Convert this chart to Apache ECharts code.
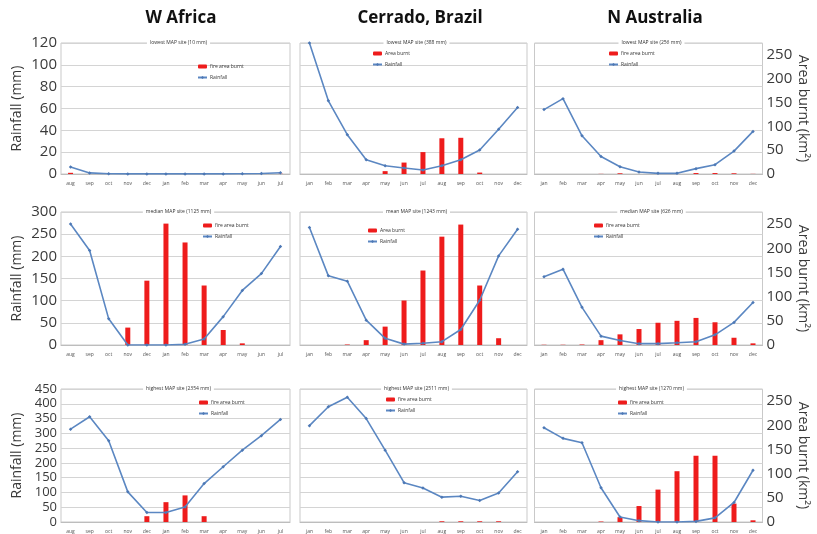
<!DOCTYPE html>
<html>
<head>
<meta charset="utf-8">
<script src="https://cdn.jsdelivr.net/npm/echarts@6/dist/echarts.min.js"></script>
<style>
  html, body { margin: 0; padding: 0; background: #fff; }
  #chart { width: 817px; height: 534px; }
</style>
</head>
<body>
<div id="chart"></div>
<script>
// 月份（西非从8月开始）
const monthsAfrica = ['aug', 'sep', 'oct', 'nov', 'dec', 'jan', 'feb', 'mar', 'apr', 'may', 'jun', 'jul'];
const monthsCalendar = ['jan', 'feb', 'mar', 'apr', 'may', 'jun', 'jul', 'aug', 'sep', 'oct', 'nov', 'dec'];
const regions = ['W Africa', 'Cerrado, Brazil', 'N Australia'];

const siteLabels = [
  ['lowest MAP site (10 mm)', 'lowest MAP site (388 mm)', 'lowest MAP site (256 mm)'],
  ['median MAP site (1125 mm)', 'mean MAP site (1243 mm)', 'median MAP site (626 mm)'],
  ['highest MAP site (2354 mm)', 'highest MAP site (2511 mm)', 'highest MAP site (1270 mm)'],
];
const burntNames = [
  ['fire area burnt', 'Area burnt', 'fire area burnt'],
  ['fire area burnt', 'Area burnt', 'fire area burnt'],
  ['fire area burnt', 'fire area burnt', 'fire area burnt'],
];

// 降雨轴刻度（每行）
const rainMax = [120, 300, 450];
const rainStep = [20, 50, 50];
const burntTicks = [0, 50, 100, 150, 200, 250];

// 降雨 (mm)
const rainAfricaLow = [6.5, 1, 0.2, 0.1, 0.1, 0.1, 0.1, 0.1, 0.1, 0.2, 0.4, 1.2];
const rainCerradoLow = [120, 67, 36, 13, 7.5, 5.5, 3.7, 7.5, 13, 22, 41, 61];
const rainAustraliaLow = [59, 69, 35, 16, 6.7, 1.8, 0.6, 0.6, 4.9, 8.5, 21, 39];
const rainAfricaMid = [273, 213, 59, 0, 0, 0, 1.5, 13.5, 64, 123, 161, 222];
const rainCerradoMid = [265, 156, 144, 56, 15, 2, 4, 7.5, 35, 101, 201, 261];
const rainAustraliaMid = [154, 171, 85, 20, 10, 3, 3, 5, 7.5, 23, 51, 96];
const rainAfricaHigh = [314, 356, 275, 102, 32, 32, 51, 130, 187, 243, 292, 347];
const rainCerradoHigh = [326, 390, 422, 350, 243, 133, 115, 84, 87, 73, 98, 170];
const rainAustraliaHigh = [319, 283, 268, 116, 17, 4.5, 0, 0, 2, 14, 66, 175];

// 过火面积 (km2)
const burntAfricaLow = [2.5, 0, 0.5, 0.5, 0.5, 0.5, 0.5, 0.5, 0.5, 0.5, 1.5, 0.5];
const burntCerradoLow = [0, 0, 0, 0, 6, 24, 46, 75, 76, 3, 0, 0];
const burntAustraliaLow = [0, 0, 0, 0.3, 1.5, 0, 0, 0, 2, 2, 1.5, 0.3];
const burntAfricaMid = [0, 0, 0, 36, 133, 251, 212, 123, 31, 3.4, 0, 0];
const burntCerradoMid = [0, 0, 1, 10, 38, 92, 154, 224, 249, 123, 14, 0];
const burntAustraliaMid = [0.5, 0.5, 1, 10, 22, 33, 46, 50, 56, 47, 15, 3.4];
const burntAfricaHigh = [0, 0, 0, 0, 12, 41, 55, 12, 0, 0, 0, 0];
const burntCerradoHigh = [0, 0, 0, 0, 0, 0, 0, 1.5, 1.5, 1.5, 1.5, 0];
const burntAustraliaHigh = [0, 0, 0, 1, 10, 33, 67, 105, 137, 137, 38, 3.5];

const rainData = [
  [rainAfricaLow, rainCerradoLow, rainAustraliaLow],
  [rainAfricaMid, rainCerradoMid, rainAustraliaMid],
  [rainAfricaHigh, rainCerradoHigh, rainAustraliaHigh],
];
const burntData = [
  [burntAfricaLow, burntCerradoLow, burntAustraliaLow],
  [burntAfricaMid, burntCerradoMid, burntAustraliaMid],
  [burntAfricaHigh, burntCerradoHigh, burntAustraliaHigh],
];

// 布局
const colLeft = [61, 300, 534.5];
const colWidth = [229, 227, 228];
const rowTop = [43, 212, 389];
const rowHeight = [131, 133, 133];
const rainLabelSize = [15, 15, 13];
const legendPos = [
  [[197, 64], [372, 51], [608, 51]],
  [[202, 223], [367, 228], [593, 223]],
  [[198, 400], [385, 397], [617, 400]],
];
const headCenter = [176, 415, 650];

const font = '"Open Sans", "Noto Sans", sans-serif';
const grid = [], xAxis = [], yAxis = [], series = [], title = [], legend = [];

regions.forEach((name, c) => {
  title.push({
    text: name, left: headCenter[c], top: 5, textAlign: 'center',
    textStyle: { fontSize: 17, fontWeight: 'bold', color: '#111', fontFamily: font },
  });
});

for (let r = 0; r < 3; r++) {
  for (let c = 0; c < 3; c++) {
    const i = r * 3 + c;
    grid.push({
      left: colLeft[c], top: rowTop[r], width: colWidth[c], height: rowHeight[r],
      show: true, borderColor: '#c9c9c9', borderWidth: 1, backgroundColor: '#fff',
    });
    xAxis.push({
      type: 'category', gridIndex: i,
      data: c === 0 ? monthsAfrica : monthsCalendar,
      axisTick: { show: false },
      axisLine: { lineStyle: { color: '#bdbdbd' } },
      axisLabel: { fontSize: 5, color: '#555', margin: 7, interval: 0, fontFamily: font },
    });
    // 左轴：降雨
    yAxis.push({
      type: 'value', gridIndex: i, position: 'left',
      min: 0, max: rainMax[r], interval: rainStep[r],
      axisLine: { show: false }, axisTick: { show: false },
      splitLine: { lineStyle: { color: '#d4d4d4', width: 1 } },
      axisLabel: {
        show: c === 0, fontSize: rainLabelSize[r], lineHeight: 12, color: '#3a3a3a', margin: 4,
        hideOverlap: false, fontFamily: font,
      },
      name: c === 0 ? 'Rainfall (mm)' : '',
      nameLocation: 'middle', nameGap: 37, nameRotate: 90,
      nameTextStyle: { fontSize: 14, color: '#3a3a3a', fontFamily: font },
    });
    // 右轴：过火面积
    yAxis.push({
      type: 'value', gridIndex: i, position: 'right',
      min: 0, max: 275, interval: burntTicks[1] - burntTicks[0],
      axisLine: { show: false }, axisTick: { show: false }, splitLine: { show: false },
      axisLabel: {
        show: c === 2, fontSize: 15, color: '#3a3a3a', margin: 4, showMaxLabel: false, fontFamily: font,
      },
      name: c === 2 ? 'Area burnt (km²)' : '',
      nameLocation: 'middle', nameGap: 33, nameRotate: -90,
      nameTextStyle: { fontSize: 14, color: '#3a3a3a', fontFamily: font },
    });
    series.push({
      name: burntNames[r][c], type: 'bar', xAxisIndex: i, yAxisIndex: i * 2 + 1,
      data: burntData[r][c], barWidth: 5,
      itemStyle: { color: '#ee1c1c' }, z: 2,
    });
    series.push({
      name: 'Rainfall', type: 'line', xAxisIndex: i, yAxisIndex: i * 2,
      data: rainData[r][c],
      symbol: 'diamond', symbolSize: 3.5,
      lineStyle: { color: '#5b87c2', width: 1.6 },
      itemStyle: { color: '#4d78b5' }, z: 3,
    });
    title.push({
      text: siteLabels[r][c],
      left: colLeft[c] + colWidth[c] / 2, top: rowTop[r] - 3, textAlign: 'center',
      backgroundColor: '#fff', padding: [0, 3],
      textStyle: { fontSize: 5, color: '#333', fontWeight: 'normal', fontFamily: font },
    });
    legend.push({
      left: legendPos[r][c][0], top: legendPos[r][c][1],
      orient: 'vertical', itemWidth: 9, itemHeight: 4, itemGap: 6, padding: 0,
      data: [burntNames[r][c], 'Rainfall'],
      textStyle: { fontSize: 5, color: '#333', fontFamily: font, padding: [0, 0, 0, -2] },
      selectedMode: false,
    });
  }
}

const chart = echarts.init(document.getElementById('chart'));
chart.setOption({
  animation: false,
  backgroundColor: '#fff',
  title, legend, grid, xAxis, yAxis, series,
});
window.addEventListener('resize', () => chart.resize());
</script>
</body>
</html>
